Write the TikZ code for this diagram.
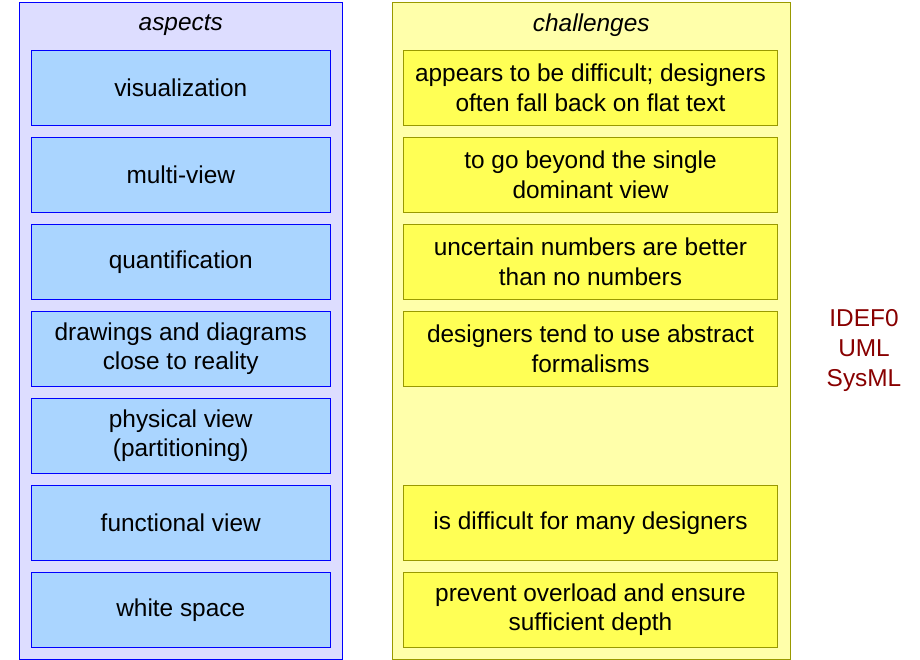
\documentclass[tikz,border=0pt]{standalone}
\usepackage{fontspec}
\setmainfont{Liberation Sans}
\usepackage{tikz}
\usetikzlibrary{positioning}
\definecolor{aspline}{HTML}{0000FF}
\definecolor{asppanel}{HTML}{DDDDFF}
\definecolor{aspfill}{HTML}{AAD5FF}
\definecolor{chline}{HTML}{999900}
\definecolor{chpanel}{HTML}{FFFFAA}
\definecolor{chfill}{HTML}{FFFF55}
\definecolor{notered}{HTML}{880000}
\tikzset{
  ac/panel/.style={
    draw, line width=0.8pt, minimum height=657pt, inner sep=0pt
  },
  ac/title/.style={
    font=\fontsize{24.4}{29.3}\selectfont\itshape
  },
  ac/box/.style={
    draw=aspline, fill=aspfill, line width=0.8pt, align=center, outer sep=0pt,
    minimum width=299pt, minimum height=75pt, inner sep=2pt,
    font=\fontsize{24.4}{29.3}\selectfont
  },
  ac/chal/.style={
    draw=chline, fill=chfill, line width=0.8pt, align=center, outer sep=0pt,
    minimum width=373.5pt, minimum height=75pt, inner sep=2pt,
    font=\fontsize{24.4}{29.3}\selectfont
  }
}

\begin{document}
\begin{tikzpicture}[x=1pt, y=-1pt, node distance=12pt and 73.5pt]
  \useasboundingbox (0,0) rectangle (920,660);

  % the two columns
  \node[ac/panel, draw=aspline, fill=asppanel, minimum width=323pt] (asppan) at (180.75,330.5) {};
  \node[ac/panel, draw=chline, fill=chpanel, minimum width=397.5pt] (chpan) at (591.25,330.5) {};
  \node[ac/title] (asptitle) at (180.75,25) {aspects};
  \node[ac/title] (chtitle) at (591.25,25) {challenges};

  % aspects
  \node[ac/box] (vis) at (180.75,87.75) {visualization};
  \node[ac/box, below=of vis] (multi) {multi-view};
  \node[ac/box, below=of multi] (quant) {quantification};
  \node[ac/box, below=of quant] (draw) {drawings and diagrams\\close to reality};
  \node[ac/box, below=of draw] (phys) {physical view\\(partitioning)};
  \node[ac/box, below=of phys] (func) {functional view};
  \node[ac/box, below=of func] (white) {white space};

  % challenges
  \node[ac/chal, right=of vis] (visch) {appears to be difficult; designers\\often fall back on flat text};
  \node[ac/chal, right=of multi] (multich) {to go beyond the single\\dominant view};
  \node[ac/chal, right=of quant] (quantch) {uncertain numbers are better\\than no numbers};
  \node[ac/chal, right=of draw] (drawch) {designers tend to use abstract\\formalisms};
  \node[ac/chal, right=of func] (funcch) {is difficult for many designers};
  \node[ac/chal, right=of white] (whitech) {prevent overload and ensure\\sufficient depth};

  \node[text=notered, align=center, font=\fontsize{24.4}{30}\selectfont] (notation) at (864,351) {IDEF0\\UML\\SysML};
\end{tikzpicture}
\end{document}
